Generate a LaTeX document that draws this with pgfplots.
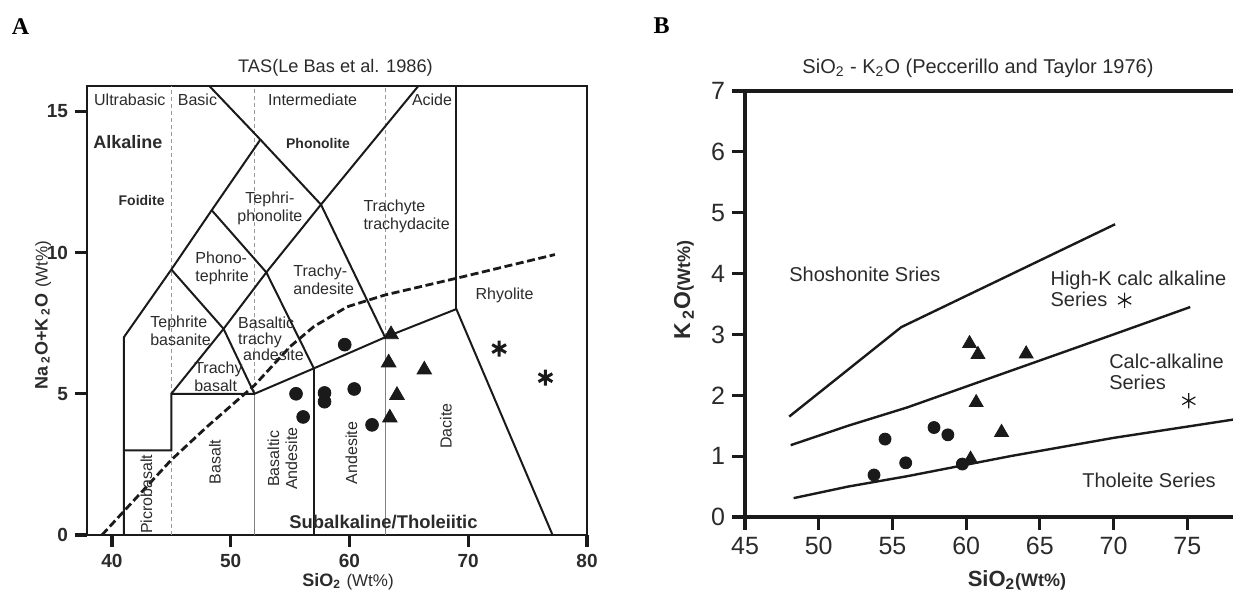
\documentclass[border=0pt]{standalone}
\usepackage{fontspec}
\setmainfont{Liberation Sans}
\newfontfamily\timesfont{Liberation Serif}
\usepackage{pgfplots}
\pgfplotsset{compat=1.18}
\definecolor{ink}{HTML}{1A1A1A}
\definecolor{txt}{HTML}{2B2B2B}
\newcommand{\fsz}[2]{\fontsize{#1}{#2}\selectfont}

\begin{document}
\begin{tikzpicture}
\path[use as bounding box] (0,0) rectangle (616.5pt,296pt);

% ---------------- A: TAS
\begin{axis}[at={(43.5pt,28.5pt)}, anchor=south west, scale only axis,
  width=250pt, height=224.5pt,
  xmin=37.9, xmax=80, ymin=0, ymax=15.9,
  xtick={40,50,60,70,80}, ytick={0,5,10,15},
  tick align=outside, xtick pos=bottom, ytick pos=left,
  major tick length=6pt,
  tick style={line width=1.6pt, ink},
  axis line style={line width=1.1pt, ink},
  tick label style={font=\fsz{9.5pt}{11pt}\bfseries, text=txt},
  /pgf/number format/assume math mode=true,
  clip=false]
% grey class dividers
\addplot[gray!80, line width=0.5pt, dash pattern=on 2pt off 1.5pt] coordinates {(45,0) (45,15.9)};
\addplot[gray!80, line width=0.5pt, dash pattern=on 2pt off 1.5pt] coordinates {(52,5) (52,15.9)};
\addplot[gray!80, line width=0.5pt, dash pattern=on 2pt off 1.5pt] coordinates {(63,7) (63,15.9)};
\addplot[gray, line width=0.6pt] coordinates {(52,0) (52,5)};
\addplot[gray, line width=0.6pt] coordinates {(63,0) (63,7)};
% field boundaries
\addplot[ink, line width=1pt] coordinates {(41,0) (41,7) (45,9.4) (48.4,11.5) (52.5,14) (48.2,15.9)};
\addplot[ink, line width=1pt] coordinates {(41,3) (45,3) (45,5) (52,5) (57,5.9) (63,7) (69,8) (77.1,0)};
\addplot[ink, line width=1pt] coordinates {(57,0) (57,5.9)};
\addplot[ink, line width=1pt] coordinates {(45,5) (49.4,7.3) (53,9.3) (57.6,11.7) (65.8,15.9)};
\addplot[ink, line width=1pt] coordinates {(45,9.4) (49.4,7.3) (52,5)};
\addplot[ink, line width=1pt] coordinates {(48.4,11.5) (53,9.3) (57,5.9)};
\addplot[ink, line width=1pt] coordinates {(52.5,14) (57.6,11.7) (63,7)};
\addplot[ink, line width=1pt] coordinates {(69,8) (69,15.9)};
% alkaline / subalkaline divide
\addplot[ink, line width=1.4pt, dash pattern=on 4pt off 1.8pt] coordinates {(39.16,0) (45,2.66) (48,3.83) (52,5.3) (55,6.67) (57,7.38) (59.8,8.08) (63,8.5) (69.1,9.1) (77.3,9.93)};
% samples
\addplot[only marks, mark=*, mark size=3.2pt, ink] coordinates {(59.6,6.74) (55.5,5.0) (57.9,5.03) (57.9,4.72) (60.4,5.17) (56.1,4.18) (61.9,3.9)};
\addplot[only marks, mark=triangle*, mark size=4.2pt, ink] coordinates {(63.5,7.1) (63.3,6.1) (64.0,4.95) (63.4,4.15) (66.3,5.85)};
\addplot[only marks, mark=asterisk, mark size=4pt, ink, line width=1.5pt] coordinates {(72.6,6.6) (76.5,5.57)};
% field names
\begin{scope}[every node/.style={font=\fsz{8pt}{9pt}, text=txt, inner sep=0pt}]
\node at (axis cs:41.5,15.4) {Ultrabasic};
\node at (axis cs:47.2,15.4) {Basic};
\node at (axis cs:56.9,15.4) {Intermediate};
\node at (axis cs:66.95,15.4) {Acide};
\node[font=\fsz{9pt}{10pt}\bfseries] at (axis cs:41.35,13.9) {Alkaline};
\node[font=\fsz{7pt}{8pt}\bfseries] at (axis cs:57.35,13.85) {Phonolite};
\node[font=\fsz{7pt}{8pt}\bfseries] at (axis cs:42.5,11.85) {Foidite};
\node[align=center] at (axis cs:53.3,11.55) {Tephri-\\phonolite};
\node[align=left, anchor=west] at (axis cs:61.15,11.3) {Trachyte\\trachydacite};
\node[align=left, anchor=west] at (axis cs:47.0,9.43) {Phono-\\tephrite};
\node[align=left, anchor=west] at (axis cs:55.25,9.05) {Trachy-\\andesite};
\node at (axis cs:73.06,8.48) {Rhyolite};
\node[align=left, anchor=west] at (axis cs:43.2,7.23) {Tephrite\\basanite};
\node[align=left, anchor=west, font=\fsz{8pt}{8pt}] at (axis cs:50.6,6.95) {Basaltic\\trachy\\\hspace*{2.5pt}andesite};
\node[align=left, anchor=west] at (axis cs:46.9,5.59) {Trachy\\basalt};
\node[rotate=90] at (axis cs:42.9,1.44) {Picrobasalt};
\node[rotate=90] at (axis cs:48.68,2.58) {Basalt};
\node[rotate=90, align=center] at (axis cs:54.36,2.7) {Basaltic\\Andesite};
\node[rotate=90] at (axis cs:60.17,2.9) {Andesite};
\node[rotate=90] at (axis cs:68.13,3.85) {Dacite};
\node[anchor=west, font=\fsz{9.2pt}{10pt}\bfseries] at (axis cs:54.91,0.46) {Subalkaline/Tholeiitic};
\end{scope}
\end{axis}

% ---------------- B: SiO2 - K2O
\begin{axis}[at={(372.5pt,37.5pt)}, anchor=south west, scale only axis,
  width=244pt, height=213pt,
  xmin=45, xmax=78.1, ymin=0, ymax=7,
  axis lines*=left, axis line style={line width=2pt, ink},
  xtick={45,50,55,60,65,70,75}, ytick={0,1,2,3,4,5,6,7},
  tick align=outside, major tick length=6.5pt,
  tick style={line width=1.6pt, ink},
  tick label style={font=\fsz{12.5pt}{14pt}, text=txt},
  /pgf/number format/assume math mode=true,
  clip=false]
\draw[line width=2pt, ink, line cap=rect] (rel axis cs:0,1) -- (rel axis cs:1,1);
\addplot[ink, line width=1.2pt] coordinates {(48,1.65) (55.6,3.12) (70.1,4.81)};
\addplot[ink, line width=1.2pt] coordinates {(48.1,1.18) (52,1.5) (56,1.8) (63,2.4) (70,3.0) (75.2,3.45)};
\addplot[ink, line width=1.2pt] coordinates {(48.3,0.31) (52,0.5) (56,0.67) (63,1.0) (70,1.3) (78.1,1.6)};
\addplot[only marks, mark=*, mark size=3pt, ink] coordinates {(53.75,0.69) (54.5,1.28) (55.9,0.89) (57.82,1.47) (58.76,1.35) (59.74,0.87)};
\addplot[only marks, mark=triangle*, mark size=4pt, ink] coordinates {(60.23,2.85) (60.8,2.67) (64.07,2.68) (60.68,1.88) (62.4,1.39) (60.3,0.95)};
\addplot[only marks, mark=asterisk, mark size=3.8pt, ink, line width=0.6pt] coordinates {(70.75,3.56) (75.1,1.91)};
\begin{scope}[every node/.style={font=\fsz{10pt}{10.5pt}, text=txt, inner sep=0pt, anchor=west, align=left}]
\node at (axis cs:47.98,3.99) {Shoshonite Sries};
\node at (axis cs:65.7,3.75) {High-K calc alkaline\\Series};
\node at (axis cs:69.68,2.39) {Calc-alkaline\\Series};
\node at (axis cs:67.85,0.61) {Tholeite Series};
\end{scope}
\end{axis}

% titles, panel letters, axis labels
\node[font=\fsz{9.1pt}{11pt}, text=txt] at (167.75pt,262pt) {TAS(Le Bas et al. 1986)};
\node[font=\fsz{10pt}{11pt}, text=txt] at (489pt,262pt) {SiO\textsubscript{2} - K\textsubscript{2}O (Peccerillo and Taylor 1976)};
\node[font=\timesfont\bfseries\fsz{12pt}{13pt}] at (10.25pt,282.75pt) {A};
\node[font=\timesfont\bfseries\fsz{12pt}{13pt}] at (330.75pt,283.25pt) {B};
\node[rotate=90, text=txt] at (21.5pt,138.5pt) {{\bfseries\fsz{9pt}{10pt}Na\,\textsubscript{2}O+K\,\textsubscript{2}O} {\fsz{8.5pt}{10pt}(Wt\%)}};
\node[text=txt] at (174pt,5pt) {{\bfseries\fsz{9pt}{10pt}SiO\textsubscript{2}} {\fsz{8.5pt}{10pt}(Wt\%)}};
\node[rotate=90, text=txt] at (342pt,151pt) {{\bfseries\fsz{11.5pt}{12pt}K\,\textsubscript{2}O}{\bfseries\fsz{9pt}{10pt}(Wt\%)}};
\node[text=txt] at (508.5pt,6pt) {{\bfseries\fsz{11pt}{12pt}SiO\textsubscript{2}}{\bfseries\fsz{9pt}{10pt}(Wt\%)}};
\end{tikzpicture}
\end{document}
